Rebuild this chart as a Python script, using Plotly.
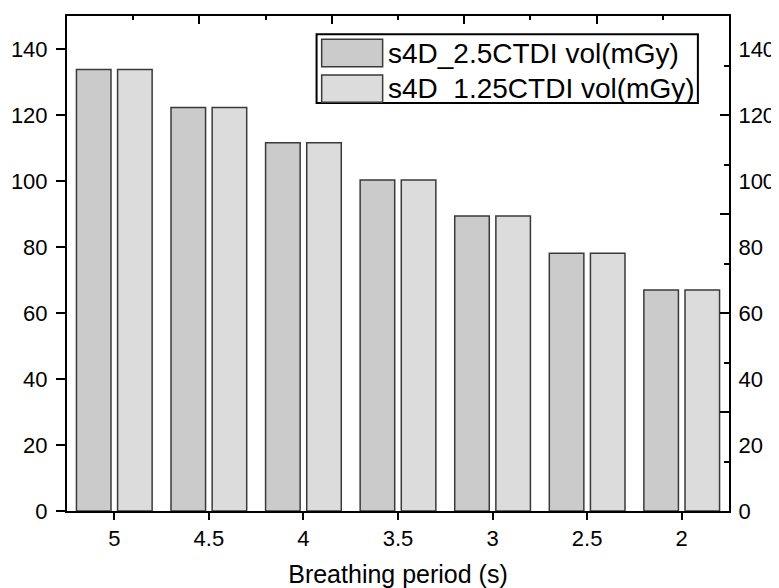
import plotly.graph_objects as go

categories = ["5", "4.5", "4", "3.5", "3", "2.5", "2"]
series_names = ["s4D_2.5CTDI vol(mGy)", "s4D_1.25CTDI vol(mGy)"]
s4d_25 = [133.8, 122.3, 111.6, 100.3, 89.4, 78.1, 67.0]
s4d_125 = [133.8, 122.3, 111.6, 100.3, 89.4, 78.1, 67.0]
series_values = [s4d_25, s4d_125]
series_colors = ["#cbcbcb", "#dcdcdc"]
left_ticks = [0, 20, 40, 60, 80, 100, 120, 140]

FONT = "Liberation Sans, Arial, sans-serif"

fig = go.Figure()
for name, vals, col in zip(series_names, series_values, series_colors):
    fig.add_trace(go.Bar(
        x=categories, y=vals, name=name,
        marker=dict(color=col, line=dict(color="#3a3a3a", width=1.5)),
        showlegend=False,
    ))

# dummy traces so overlay axes are rendered
fig.add_trace(go.Scatter(x=[None], y=[None], xaxis="x2", yaxis="y2", showlegend=False, hoverinfo="skip"))
fig.add_trace(go.Scatter(x=[None], y=[None], xaxis="x2", yaxis="y3", showlegend=False, hoverinfo="skip"))

axis_common = dict(showline=True, linecolor="black", linewidth=2, showgrid=False, zeroline=False,
                   automargin=False)

# page body has an 8px default margin, so the figure is 8px smaller on each axis
fig.update_layout(
    width=771, height=580,
    margin=dict(l=59, r=50, t=8, b=77),
    paper_bgcolor="white", plot_bgcolor="white",
    font=dict(family=FONT, color="black", size=22),
    bargap=0.13, bargroupgap=0.16, barmode="group",
    xaxis=dict(
        **axis_common, type="category", range=[-0.5, 6.5],
        ticks="outside", ticklen=7, tickwidth=2, tickcolor="black",
        tickfont=dict(size=22), ticklabelstandoff=0,
        title=dict(text="Breathing period (s)", font=dict(size=25), standoff=17),
    ),
    xaxis2=dict(
        **axis_common, overlaying="x", side="top", range=[0, 10],
        tickvals=[0, 2, 4, 6, 8, 10], ticks="inside", ticklen=8, tickwidth=2, tickcolor="black",
        showticklabels=False,
        minor=dict(tickvals=[1, 3, 5, 7, 9], ticks="inside", ticklen=4, tickwidth=2, tickcolor="black"),
    ),
    yaxis=dict(
        **axis_common, range=[0, 150], tickvals=left_ticks,
        ticks="outside", ticklen=9, tickwidth=2, tickcolor="black",
        tickfont=dict(size=22), ticklabelstandoff=4,
    ),
    yaxis2=dict(
        **axis_common, overlaying="y", side="right", range=[0, 150], tickvals=left_ticks,
        ticks="", tickfont=dict(size=22), ticklabelstandoff=3,
    ),
    yaxis3=dict(
        **axis_common, overlaying="y", side="right", range=[0, 150],
        tickvals=[0, 30, 60, 90, 120, 150], ticks="inside", ticklen=9, tickwidth=2, tickcolor="black",
        showticklabels=False,
        minor=dict(tickvals=[15, 45, 75, 105, 135], ticks="inside", ticklen=5, tickwidth=2, tickcolor="black"),
    ),
)

# custom legend (large swatches as in reference)
shapes = [dict(type="rect", xref="paper", yref="paper", x0=0.377, x1=0.953, y0=0.824, y1=0.963,
               line=dict(color="black", width=2), fillcolor="white", layer="above")]
swatch_rows = [(0.8976, 0.9529), (0.8257, 0.8808)]
annotations = []
for (y0, y1), name, col in zip(swatch_rows, series_names, series_colors):
    shapes.append(dict(type="rect", xref="paper", yref="paper", x0=0.3847, x1=0.4768, y0=y0, y1=y1,
                       line=dict(color="#3a3a3a", width=1.5), fillcolor=col, layer="above"))
    annotations.append(dict(xref="paper", yref="paper", x=0.4819, y=(y0 + y1) / 2, text=name,
                            showarrow=False, xanchor="left", yanchor="middle",
                            font=dict(size=28, family=FONT, color="black")))
fig.update_layout(shapes=shapes, annotations=annotations)

fig.write_html("out.html")
